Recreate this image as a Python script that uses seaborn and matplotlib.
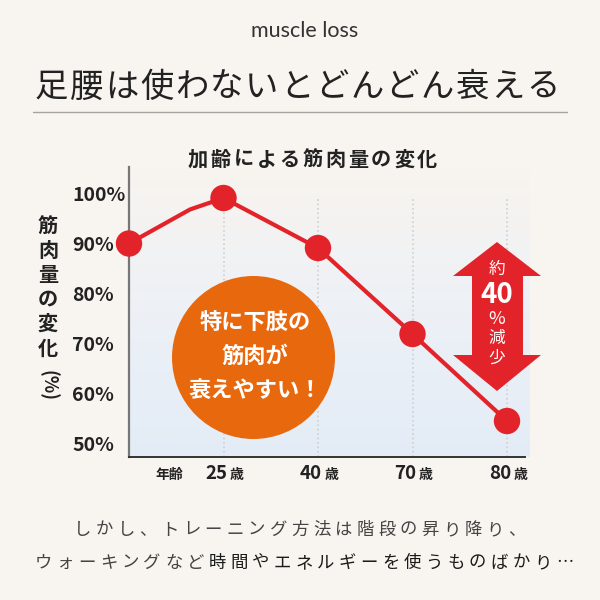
import numpy as np
import pandas as pd
import matplotlib
matplotlib.use('Agg')
import matplotlib.pyplot as plt
import matplotlib.transforms as mtransforms
from matplotlib.colors import LinearSegmentedColormap
from matplotlib.patches import Circle, Polygon
import seaborn as sns

# data
age_pos = [0, 0.645, 1, 2, 3, 4]          # position along the age axis
muscle_pct = [90, 96.8, 99.1, 89.1, 71.9, 54.5]
has_marker = [True, False, True, True, True, True]
tick_pos = [1, 2, 3, 4]
tick_ages = ['25', '40', '70', '80']
y_ticks = [50, 60, 70, 80, 90, 100]

df = pd.DataFrame({'pos': age_pos, 'pct': muscle_pct, 'marker': has_marker})

BG = '#f8f4ef'
RED = '#e3232a'
ORANGE = '#e8680e'
DARK = '#222222'

sns.set_theme(style='white')
plt.rcParams['font.family'] = ['Noto Sans CJK JP', 'DejaVu Sans']

fig = plt.figure(figsize=(6, 6), dpi=100, facecolor=BG)


def fx(px):
    return px / 600


def fy(py):
    return 1 - py / 600


def spaced_text(s, cx, y, pitch, **kw):
    x0 = cx - (len(s) - 1) / 2 * pitch
    for i, ch in enumerate(s):
        fig.text(fx(x0 + i * pitch), fy(y), ch, ha='center', va='center', **kw)


ax = fig.add_axes([fx(129), fy(457), (525 - 129) / 600, (457 - 167) / 600])
ax.set_facecolor('none')

xlim = (0, (525 - 129) / 94.5)
ylim = (47.3, 105.3)

# gradient background
grad = np.linspace(0, 1, 256).reshape(-1, 1)
cmap = LinearSegmentedColormap.from_list('bg', ['#e3ecf6', '#edf1f6', BG])
ax.imshow(grad, extent=[xlim[0], xlim[1] + 0.05, ylim[0], ylim[1]], origin='lower',
          cmap=cmap, aspect='auto', zorder=0, clip_on=False)

# dotted grid at ages
ax.vlines(tick_pos, ylim[0], 99, colors='#cfcfcf', linestyles=':', linewidth=1.2, zorder=1)

# orange circle
ax.add_patch(Circle((fx(253.5), fy(357.5)), 81.5 / 600, transform=fig.transFigure,
                    facecolor=ORANGE, edgecolor='none', zorder=2, clip_on=False))

sns.lineplot(data=df, x='pos', y='pct', color=RED, linewidth=3, sort=False,
             ax=ax, zorder=3, clip_on=False)
sns.scatterplot(data=df[df['marker']], x='pos', y='pct', color=RED, s=19 ** 2,
                edgecolor='none', linewidth=0, ax=ax, zorder=4, clip_on=False)

ax.set_xlim(*xlim)
ax.set_ylim(*ylim)
ax.set_xlabel('')
ax.set_ylabel('')
ax.set_xticks([])
ax.set_yticks(y_ticks)
ax.set_yticklabels([f'{v}%' for v in y_ticks], fontsize=14, fontweight='bold', color=DARK)
ax.tick_params(axis='y', length=0, pad=41)
for lbl in ax.get_yticklabels():
    lbl.set_horizontalalignment('left')

for side in ['top', 'right']:
    ax.spines[side].set_visible(False)
ax.spines['left'].set_color('#777777')
ax.spines['left'].set_linewidth(1.6)
ax.spines['bottom'].set_color('#333333')
ax.spines['bottom'].set_linewidth(1.4)

# x labels
trans = mtransforms.blended_transform_factory(ax.transData, fig.transFigure)
for p, a in zip(tick_pos, tick_ages):
    ax.text(p, fy(479), a, transform=trans + mtransforms.ScaledTranslation(0.04, 0, fig.dpi_scale_trans),
            ha='right', va='baseline', fontsize=13.5, fontweight='bold', color=DARK)
    ax.text(p, fy(479), '歳', transform=trans + mtransforms.ScaledTranslation(0.065, 0, fig.dpi_scale_trans),
            ha='left', va='baseline', fontsize=10, fontweight='bold', color=DARK)
ax.text(0.43, fy(479), '年齢', transform=trans, ha='center', va='baseline',
        fontsize=10, fontweight='bold', color=DARK)

# circle text
for txt, y in [('特に下肢の', 322), ('筋肉が', 356), ('衰えやすい！', 390)]:
    fig.text(fx(255), fy(y), txt, ha='center', va='center', fontsize=16,
             fontweight='bold', color='white', zorder=5)

# double arrow
arrow = [(497, 242), (541, 276), (523, 276), (523, 355), (541, 355), (497, 391),
         (453, 355), (472, 355), (472, 276), (453, 276)]
fig.patches.append(Polygon([(fx(a), fy(b)) for a, b in arrow], closed=True,
                           transform=fig.transFigure, facecolor=RED, edgecolor='none', zorder=5))
fig.text(fx(497), fy(269), '約', ha='center', va='center', fontsize=12, color='white', zorder=6)
fig.text(fx(497), fy(295), '40', ha='center', va='center', fontsize=20, fontweight='bold',
         color='white', zorder=6)
fig.text(fx(497), fy(319), '%', ha='center', va='center', fontsize=13, color='white', zorder=6)
fig.text(fx(497), fy(338), '減', ha='center', va='center', fontsize=12, color='white', zorder=6)
fig.text(fx(497), fy(358), '少', ha='center', va='center', fontsize=12, color='white', zorder=6)

# y label, stacked vertically
for i, ch in enumerate('筋肉量の変化'):
    fig.text(fx(48), fy(226 + i * 24.4), ch, ha='center', va='center', fontsize=14.5,
             fontweight='bold', color=DARK)
fig.text(fx(48), fy(385), '(%)', ha='center', va='center', rotation=-90, fontsize=13,
         fontweight='bold', color=DARK)

# headings
fig.text(fx(305), fy(31), 'muscle loss', ha='center', va='center', fontsize=15.5,
         family=['Lato', 'DejaVu Sans'], color='#333333')
spaced_text('足腰は使わないとどんどん衰える', 297, 87, 35.1, fontsize=24, color=DARK)
fig.add_artist(plt.Line2D([fx(33), fx(567)], [fy(112), fy(112)], color='#a8a29c', linewidth=1))
spaced_text('加齢による筋肉量の変化', 312.5, 159, 22.9, fontsize=14.5, fontweight='bold', color=DARK)

# bottom text
spaced_text('しかし、トレーニング方法は階段の昇り降り、', 300, 530, 21.7, fontsize=12.5, color='#444444')
line2a = 'ウォーキングなど'
line2b = '時間やエネルギーを使うものばかり…'
n = len(line2a) + len(line2b)
x0 = 304 - (n - 1) / 2 * 21.7
for i, ch in enumerate(line2a + line2b):
    fig.text(fx(x0 + i * 21.7), fy(563), ch, ha='center', va='center', fontsize=12.5,
             color='#444444' if i < len(line2a) else '#1a1a1a')

fig.savefig('out.png', dpi=100, facecolor=BG)
